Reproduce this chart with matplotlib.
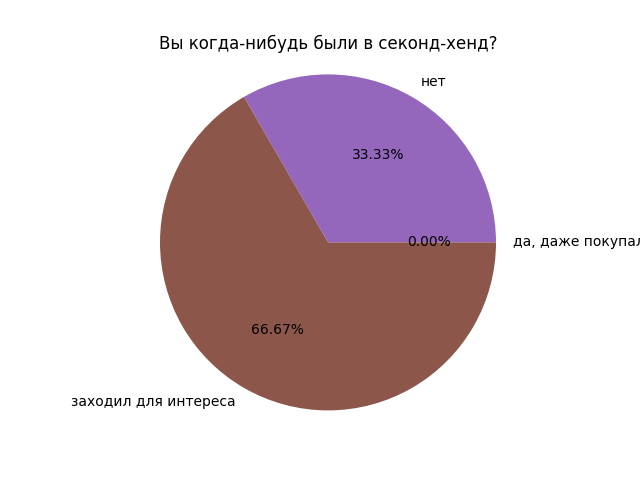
import matplotlib
matplotlib.use('Agg')
import matplotlib.pyplot as plt

# ответы на вопрос
labels = ['да, даже покупал', 'нет', 'заходил для интереса']
counts = [0, 1, 2]
colors = ['tab:green', 'tab:purple', 'tab:brown']

fig, ax = plt.subplots(figsize=(6.4, 4.8), dpi=100)
ax.pie(counts, labels=labels, colors=colors, autopct='%.2f%%')
ax.axis('equal')
ax.set_title('Вы когда-нибудь были в секонд-хенд?')

plt.savefig('out.png')
